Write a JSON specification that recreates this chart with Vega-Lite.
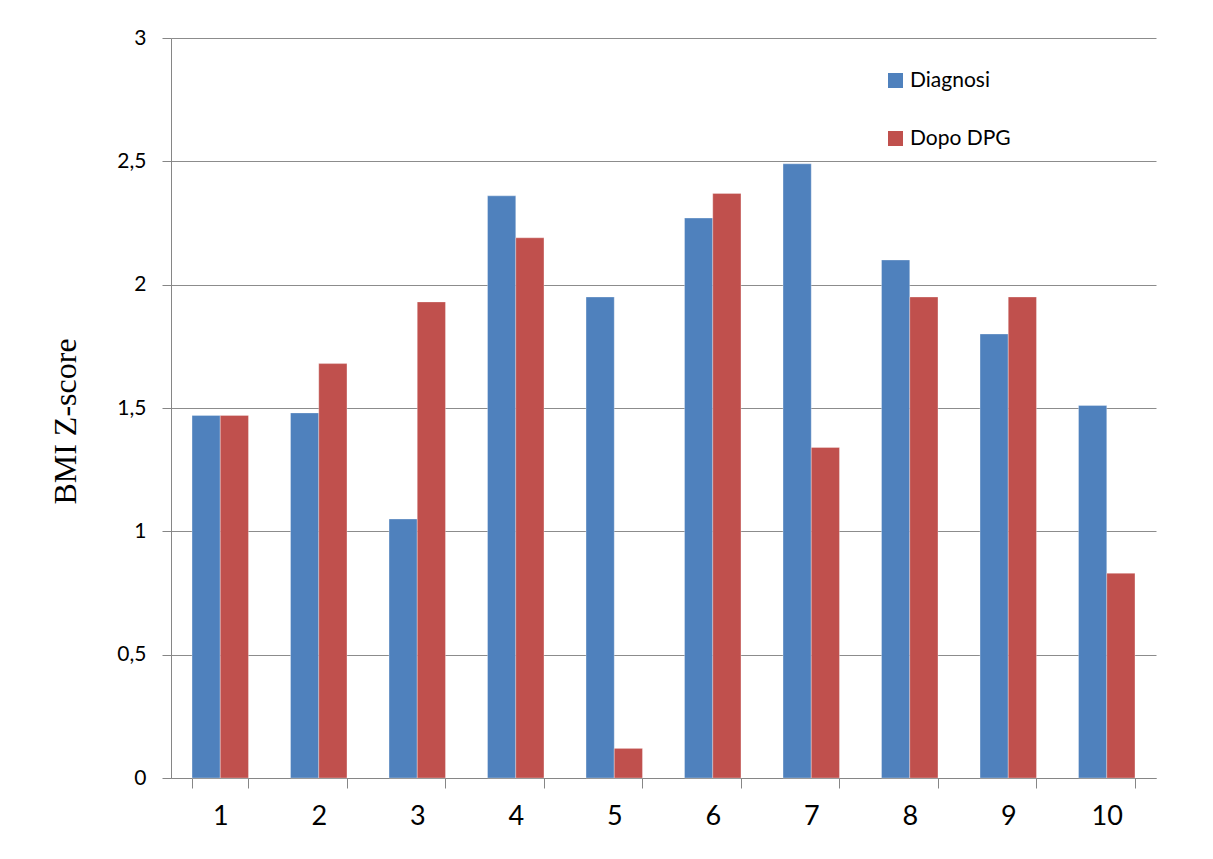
{
  "$schema": "https://vega.github.io/schema/vega-lite/v6.json",
  "autosize": {"type": "none"},
  "width": 985,
  "height": 740,
  "padding": {"left": 171, "top": 38, "right": 57, "bottom": 81},
  "background": "#ffffff",
  "data": {
    "values": [
      {"paziente": "1", "serie": "Diagnosi", "z": 1.47},
      {"paziente": "1", "serie": "Dopo DPG", "z": 1.47},
      {"paziente": "2", "serie": "Diagnosi", "z": 1.48},
      {"paziente": "2", "serie": "Dopo DPG", "z": 1.68},
      {"paziente": "3", "serie": "Diagnosi", "z": 1.05},
      {"paziente": "3", "serie": "Dopo DPG", "z": 1.93},
      {"paziente": "4", "serie": "Diagnosi", "z": 2.36},
      {"paziente": "4", "serie": "Dopo DPG", "z": 2.19},
      {"paziente": "5", "serie": "Diagnosi", "z": 1.95},
      {"paziente": "5", "serie": "Dopo DPG", "z": 0.12},
      {"paziente": "6", "serie": "Diagnosi", "z": 2.27},
      {"paziente": "6", "serie": "Dopo DPG", "z": 2.37},
      {"paziente": "7", "serie": "Diagnosi", "z": 2.49},
      {"paziente": "7", "serie": "Dopo DPG", "z": 1.34},
      {"paziente": "8", "serie": "Diagnosi", "z": 2.1},
      {"paziente": "8", "serie": "Dopo DPG", "z": 1.95},
      {"paziente": "9", "serie": "Diagnosi", "z": 1.8},
      {"paziente": "9", "serie": "Dopo DPG", "z": 1.95},
      {"paziente": "10", "serie": "Diagnosi", "z": 1.51},
      {"paziente": "10", "serie": "Dopo DPG", "z": 0.83}
    ]
  },
  "mark": {"type": "bar", "stroke": "#ffffff", "strokeWidth": 1, "strokeOpacity": 0.3},
  "encoding": {
    "x": {
      "field": "paziente",
      "type": "ordinal",
      "sort": ["1", "2", "3", "4", "5", "6", "7", "8", "9", "10"],
      "scale": {"paddingInner": 0.427, "paddingOuter": 0.2135},
      "axis": {
        "title": null,
        "labelAngle": 0,
        "labelFont": "Lato",
        "labelFontSize": 27,
        "labelColor": "#000000",
        "labelPadding": 15,
        "tickBand": "extent",
        "tickSize": 10,
        "tickColor": "#868686",
        "domainColor": "#868686",
        "grid": false
      }
    },
    "xOffset": {
      "field": "serie",
      "type": "nominal",
      "scale": {"paddingInner": 0, "paddingOuter": 0}
    },
    "y": {
      "field": "z",
      "type": "quantitative",
      "scale": {"domain": [0, 3], "nice": false},
      "axis": {
        "title": "BMI Z-score",
        "titleFont": "Liberation Serif",
        "titleFontSize": 32,
        "titleFontWeight": "normal",
        "titleColor": "#000000",
        "titleAngle": -90,
        "titleAlign": "center",
        "titleBaseline": "alphabetic",
        "titleX": -96,
        "titleY": 383,
        "values": [0, 0.5, 1, 1.5, 2, 2.5, 3],
        "format": ",.1~f",
        "labelExpr": "replace(datum.label, '.', ',')",
        "labelFont": "Lato",
        "labelFontSize": 21,
        "labelColor": "#000000",
        "labelPadding": 16,
        "tickSize": 9,
        "tickColor": "#868686",
        "domainColor": "#868686",
        "grid": true,
        "gridColor": "#8c8c8c",
        "gridWidth": 1
      }
    },
    "color": {
      "field": "serie",
      "type": "nominal",
      "scale": {"domain": ["Diagnosi", "Dopo DPG"], "range": ["#4f81bd", "#c0504d"]},
      "legend": {
        "title": null,
        "orient": "none",
        "legendX": 714,
        "legendY": 32,
        "padding": 0,
        "symbolType": "square",
        "symbolSize": 225,
        "symbolStrokeWidth": 0,
        "labelFont": "Lato",
        "labelFontSize": 21,
        "labelColor": "#000000",
        "labelOffset": 4,
        "rowPadding": 36
      }
    }
  },
  "config": {
    "view": {"stroke": null}
  }
}
